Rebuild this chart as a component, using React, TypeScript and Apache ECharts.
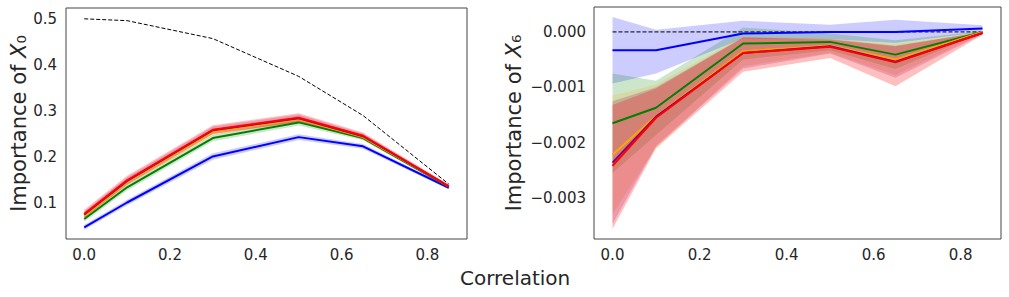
import React, { useEffect, useRef } from "react";
import * as echarts from "echarts";

const xs = [0, 0.1, 0.3, 0.5, 0.65, 0.85];
const xTicks = [0, 0.2, 0.4, 0.6, 0.8];
const leftYTicks = [0.1, 0.2, 0.3, 0.4, 0.5];
const rightYTicks = [-0.003, -0.002, -0.001, 0];

// Left panel: importance of X0
const L_ref = [0.5, 0.496, 0.457, 0.375, 0.29, 0.141];
const L_blue = [0.047, 0.101, 0.201, 0.243, 0.223, 0.133];
const L_blueLo = [0.042, 0.095, 0.194, 0.237, 0.218, 0.13];
const L_blueHi = [0.052, 0.107, 0.208, 0.249, 0.228, 0.136];
const L_green = [0.065, 0.134, 0.241, 0.275, 0.241, 0.135];
const L_greenLo = [0.059, 0.127, 0.234, 0.268, 0.236, 0.132];
const L_greenHi = [0.071, 0.141, 0.248, 0.282, 0.246, 0.138];
const L_orange = [0.072, 0.145, 0.254, 0.282, 0.243, 0.136];
const L_orangeLo = [0.066, 0.138, 0.247, 0.275, 0.238, 0.133];
const L_orangeHi = [0.078, 0.152, 0.261, 0.289, 0.248, 0.139];
const L_purple = [0.075, 0.148, 0.258, 0.284, 0.245, 0.136];
const L_purpleLo = [0.068, 0.14, 0.25, 0.276, 0.239, 0.133];
const L_purpleHi = [0.082, 0.156, 0.266, 0.292, 0.251, 0.139];
const L_red = [0.076, 0.149, 0.259, 0.285, 0.246, 0.136];
const L_redLo = [0.068, 0.14, 0.25, 0.276, 0.24, 0.133];
const L_redHi = [0.085, 0.159, 0.269, 0.295, 0.253, 0.14];

// Right panel: importance of X6
const R_ref = [0, 0, 0, 0, 0, 0];
const R_blue = [-0.00033, -0.00033, -0.00003, 0.0, 0.0, 0.00006];
const R_blueLo = [-0.00093, -0.00075, -0.00012, -0.00013, -0.0002, 0.0];
const R_blueHi = [0.00027, 0.00004, 0.0002, 0.00013, 0.00022, 0.00012];
const R_green = [-0.00165, -0.00137, -0.00021, -0.00018, -0.00041, 0.0];
const R_greenLo = [-0.00255, -0.00186, -0.0005, -0.00033, -0.00067, -0.00001];
const R_greenHi = [-0.00075, -0.00088, 0.00008, -0.00003, -0.00015, 0.00001];
const R_orange = [-0.00222, -0.00152, -0.00035, -0.00025, -0.0005, 0];
const R_orangeLo = [-0.00329, -0.00209, -0.00062, -0.00038, -0.00078, -0.00003];
const R_orangeHi = [-0.00115, -0.00095, -0.00008, -0.00012, -0.00022, 0];
const R_purple = [-0.00236, -0.00153, -0.00038, -0.00026, -0.00054, -0.00002];
const R_purpleLo = [-0.00347, -0.00206, -0.00066, -0.00039, -0.00083, -0.00004];
const R_purpleHi = [-0.00125, -0.001, -0.0001, -0.00013, -0.00025, 0];
const R_red = [-0.00242, -0.00155, -0.00038, -0.00027, -0.00055, -0.00002];
const R_redLo = [-0.00356, -0.0021, -0.00072, -0.00047, -0.00098, -0.00005];
const R_redHi = [-0.00132, -0.00102, -0.0001, -0.00014, -0.00026, 0];

const COLORS = {
  blue: "#0000ff",
  green: "#008000",
  orange: "#ffa500",
  purple: "#800080",
  red: "#ff0000",
};
const BAND = {
  blue: "rgba(0,0,255,0.2)",
  green: "rgba(0,128,0,0.2)",
  orange: "rgba(255,165,0,0.2)",
  purple: "rgba(128,0,128,0.2)",
  red: "rgba(255,0,0,0.25)",
};

const FONT = "DejaVu Sans";
const TXT = "#262626";

function band(idx: number, lo: number[], hi: number[], fill: string) {
  return {
    type: "custom",
    xAxisIndex: idx,
    yAxisIndex: idx,
    silent: true,
    z: 1,
    data: xs.map((x, i) => [x, lo[i], hi[i]]),
    encode: { x: 0, y: [1, 2] },
    renderItem: (params: any, api: any) => {
      if (params.dataIndex !== 0) return null;
      const pts: number[][] = [];
      for (let i = 0; i < xs.length; i++) pts.push(api.coord([xs[i], hi[i]]));
      for (let i = xs.length - 1; i >= 0; i--) pts.push(api.coord([xs[i], lo[i]]));
      return { type: "polygon", shape: { points: pts }, style: { fill, stroke: "none" } };
    },
  };
}

function line(idx: number, ys: number[], color: string, dashed = false) {
  return {
    type: "line",
    xAxisIndex: idx,
    yAxisIndex: idx,
    data: xs.map((x, i) => [x, ys[i]]),
    showSymbol: false,
    symbol: "none",
    silent: true,
    z: 3,
    lineStyle: dashed
      ? { color: "#000", width: 1, type: [4, 2] }
      : { color, width: 2 },
  };
}

function xAxis(gridIndex: number) {
  return {
    type: "value",
    gridIndex,
    min: -0.0425,
    max: 0.8925,
    splitLine: { show: false },
    axisLine: { show: false },
    axisTick: { show: false },
    axisLabel: {
      customValues: xTicks,
      formatter: (v: number) => v.toFixed(1),
      color: TXT,
      fontFamily: FONT,
      fontSize: 15,
      margin: 8,
    },
  };
}

const minus = (s: string) => s.replace("-", "\u2212");

export default function App() {
  const ref = useRef<HTMLDivElement>(null);
  useEffect(() => {
    document.body.style.margin = "0";
    const chart = echarts.init(ref.current!, null, { renderer: "svg" });
    const nameStyle = {
      fontFamily: FONT,
      fontSize: 21,
      color: TXT,
      rich: {
        i: { fontFamily: FONT, fontSize: 21, fontStyle: "italic", color: TXT },
        s: { fontFamily: FONT, fontSize: 21, color: TXT },
      },
    };
    chart.setOption({
      animation: false,
      grid: [
        { left: 66, top: 8, width: 401, height: 231, show: true, borderColor: "#444", borderWidth: 1, backgroundColor: "#fff" },
        { left: 594, top: 7, width: 407, height: 232, show: true, borderColor: "#444", borderWidth: 1, backgroundColor: "#fff" },
      ],
      xAxis: [xAxis(0), xAxis(1)],
      yAxis: [
        {
          type: "value",
          gridIndex: 0,
          min: 0.0217,
          max: 0.5235,
          splitLine: { show: false },
          axisLine: { show: false },
          axisTick: { show: false },
          axisLabel: {
            customValues: leftYTicks,
            formatter: (v: number) => v.toFixed(1),
            color: TXT,
            fontFamily: FONT,
            fontSize: 15,
            margin: 9,
          },
          name: "Importance of {i|X}{s|\u2080}",
          nameLocation: "middle",
          nameGap: 34,
          nameTextStyle: nameStyle,
        },
        {
          type: "value",
          gridIndex: 1,
          min: -0.00374,
          max: 0.00045,
          splitLine: { show: false },
          axisLine: { show: false },
          axisTick: { show: false },
          axisLabel: {
            customValues: rightYTicks,
            formatter: (v: number) => minus(v.toFixed(3)),
            color: TXT,
            fontFamily: FONT,
            fontSize: 15,
            margin: 8,
          },
          name: "Importance of {i|X}{s|\u2086}",
          nameLocation: "middle",
          nameGap: 70,
          nameTextStyle: nameStyle,
        },
      ],
      graphic: [
        {
          type: "text",
          left: 460,
          top: 268,
          style: { text: "Correlation", fontFamily: FONT, fontSize: 20, fill: TXT },
        },
      ],
      series: [
        band(0, L_blueLo, L_blueHi, BAND.blue),
        band(0, L_greenLo, L_greenHi, BAND.green),
        band(0, L_orangeLo, L_orangeHi, BAND.orange),
        band(0, L_purpleLo, L_purpleHi, BAND.purple),
        band(0, L_redLo, L_redHi, BAND.red),
        line(0, L_ref, "#000", true),
        line(0, L_blue, COLORS.blue),
        line(0, L_green, COLORS.green),
        line(0, L_orange, COLORS.orange),
        line(0, L_purple, COLORS.purple),
        line(0, L_red, COLORS.red),
        band(1, R_blueLo, R_blueHi, BAND.blue),
        band(1, R_greenLo, R_greenHi, BAND.green),
        band(1, R_orangeLo, R_orangeHi, BAND.orange),
        band(1, R_purpleLo, R_purpleHi, BAND.purple),
        band(1, R_redLo, R_redHi, BAND.red),
        line(1, R_ref, "#000", true),
        line(1, R_blue, COLORS.blue),
        line(1, R_green, COLORS.green),
        line(1, R_orange, COLORS.orange),
        line(1, R_purple, COLORS.purple),
        line(1, R_red, COLORS.red),
      ],
    });
    return () => chart.dispose();
  }, []);
  return <div ref={ref} style={{ width: 1009, height: 297 }} />;
}
